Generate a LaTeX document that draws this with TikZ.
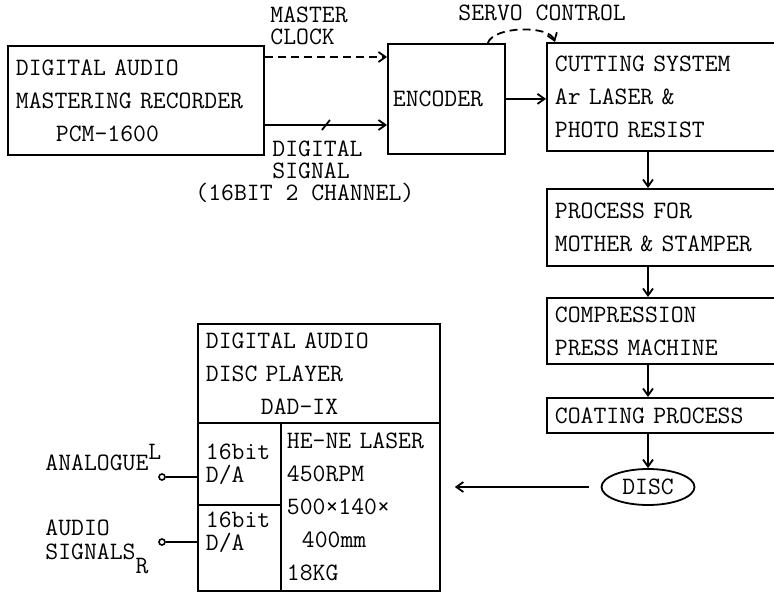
\documentclass[tikz,border=0pt]{standalone}
\usepackage{fontspec}
\usetikzlibrary{shapes.geometric, arrows.meta, positioning, calc}

\begin{document}
\begin{tikzpicture}[
    x=0.5pt, y=-0.5pt,
    font=\ttfamily\fontsize{12.5}{16.5}\selectfont,
    blk/.style={draw, line width=0.9pt, anchor=north west, inner xsep=4pt,
                inner ysep=0pt, align=left},
    lbl/.style={font=\ttfamily\fontsize{12.5}{11}\selectfont, align=left, inner sep=0pt, anchor=west},
    arr/.style={-{Straight Barb[length=3.5pt,width=5pt]}, line width=0.9pt},
    dashline/.style={dash pattern=on 4pt off 2.5pt},
    term/.style={circle, draw, line width=0.8pt, inner sep=0pt, minimum size=3pt},
  ]
    \useasboundingbox (0,0) rectangle (774,593);

    % recording side
    \node[blk, minimum width=128pt, text width=120pt, minimum height=54.5pt] (rec) at (7,45)
      {DIGITAL AUDIO\\MASTERING RECORDER\\\hspace*{20pt}PCM-1600};
    \node[blk, inner xsep=2.5pt, minimum width=58.5pt, text width=53.5pt, minimum height=55pt] (enc) at (387,43)
      {ENCODER};
    \node[blk, minimum width=117pt, text width=109pt, minimum height=54pt] (cut) at (546,42)
      {CUTTING SYSTEM\\Ar LASER \&\\PHOTO RESIST};
    \node[blk, minimum width=117pt, text width=109pt, minimum height=38.5pt] (proc) at (546,188)
      {PROCESS FOR\\MOTHER \& STAMPER};
    \node[blk, minimum width=117pt, text width=109pt, minimum height=33pt] (press) at (546,297)
      {COMPRESSION\\PRESS MACHINE};
    \node[blk, minimum width=117pt, text width=109pt, minimum height=17.5pt] (coat) at (546,397)
      {COATING PROCESS};
    \node[draw, ellipse, line width=0.9pt, minimum width=46.5pt, minimum height=18pt, inner sep=0pt] (disc) at (648,487)
      {DISC};

    % player
    \node[blk, minimum width=121pt, text width=113pt, minimum height=49.5pt] (player) at (197,323)
      {DIGITAL AUDIO\\DISC PLAYER\\\hspace*{27.5pt}DAD-IX};
    \node[blk, font=\ttfamily\fontsize{12.5}{11.5}\selectfont, minimum width=41.5pt, text width=33.5pt, minimum height=41pt] (da1) at (197,422)
      {16bit\\D/A};
    \node[blk, font=\ttfamily\fontsize{12.5}{11.5}\selectfont, minimum width=41.5pt, text width=33.5pt, minimum height=43pt] (da2) at (197,504)
      {16bit\\D/A\\[5pt]~};
    \node[blk, inner xsep=3pt, minimum width=79.5pt, text width=73.5pt, minimum height=84pt] (spec) at (280,422)
      {HE-NE LASER\\450RPM\\500×140×\\\hspace*{7.5pt}400mm\\18KG};

    \node[term] (outL) at (162,477) {};
    \node[term] (outR) at (162,542) {};

    % labels
    \node[lbl] (clklbl) at (270,26) {MASTER\\CLOCK};
    \node[lbl] (siglbl) at (272,160) {DIGITAL\\SIGNAL};
    \node[lbl] (chanlbl) at (195,193) {(16BIT 2 CHANNEL)};
    \node[lbl] (servolbl) at (458,13) {SERVO CONTROL};
    \node[lbl] (analbl) at (45,463) {ANALOGUE\smash{\raisebox{5.5pt}{L}}};
    \node[lbl, font=\ttfamily\fontsize{12.5}{12}\selectfont] (audlbl) at (45,540) {AUDIO\\SIGNALS\smash{\raisebox{-7pt}{R}}};

    \coordinate (clk) at (0,57);
    \coordinate (sig) at (0,125);

    % connectors
    \draw[arr, dashline] (rec.east |- clk) -- (enc.west |- clk);
    \draw[arr] (rec.east |- sig) -- coordinate[pos=0.5] (tick) (enc.west |- sig);
    \draw[line width=0.9pt] ($(tick)+(-4,5)$) -- ($(tick)+(4,-5)$);
    \draw[arr] (enc.east) -- (enc.east -| cut.west);
    \draw[arr, dashline] ($(enc.north east)+(-18,0)$) .. controls ($(enc.north east)+(-12,-17)$) and ($(cut.north west)+(3,-17)$) .. ($(cut.north west)+(9,0)$);
    \draw[arr] (cut.south -| disc) -- (proc.north -| disc);
    \draw[arr] (proc.south -| disc) -- (press.north -| disc);
    \draw[arr] (press.south -| disc) -- (coat.north -| disc);
    \draw[arr] (coat.south -| disc) -- (disc.north);
    \draw[arr, shorten <=6pt, shorten >=7pt] (disc.west) -- (disc.west -| spec.east);
    \draw[line width=0.9pt] (outL) -- (outL -| da1.west);
    \draw[line width=0.9pt] (outR) -- (outR -| da2.west);
  \end{tikzpicture}
\end{document}
